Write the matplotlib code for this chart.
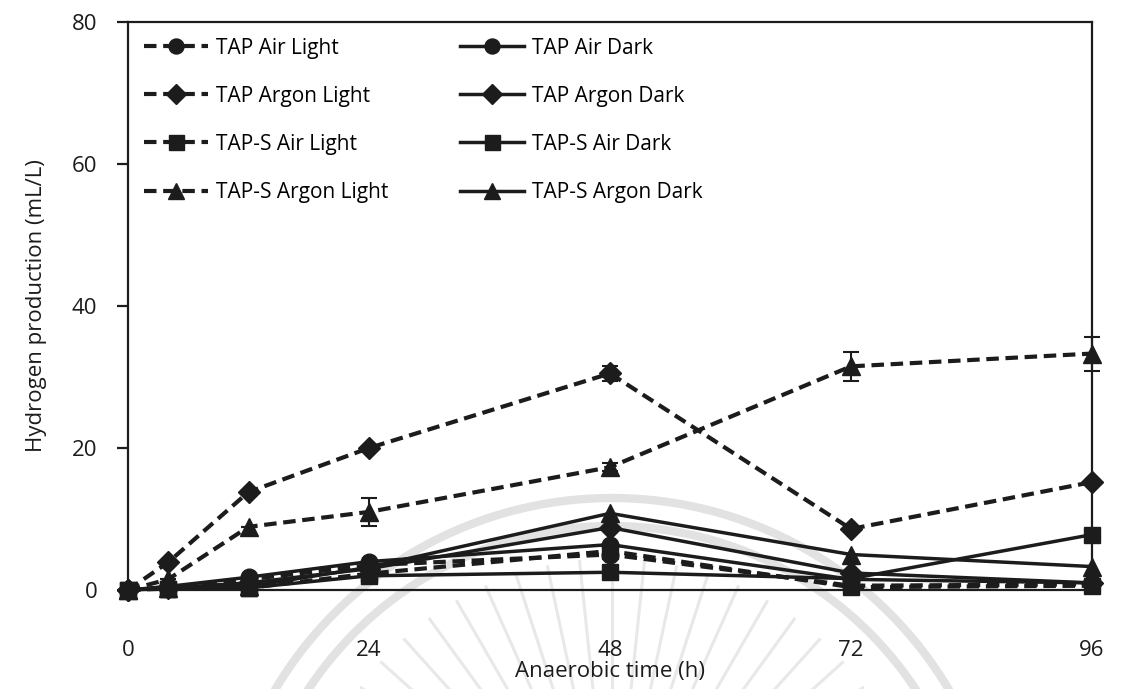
import numpy as np
import matplotlib.pyplot as plt
from matplotlib.lines import Line2D

# sampling times (h)
hours = [0, 4, 12, 24, 48, 72, 96]

# hydrogen production (mL/L) per condition
tap_air_light = [0, 0.4, 1.5, 3.5, 5.0, 0.6, 0.8]
tap_air_dark = [0, 0.5, 1.8, 4.0, 6.4, 1.5, 1.0]
tap_argon_light = [0, 3.9, 13.8, 20.0, 30.5, 8.6, 15.2]
tap_argon_dark = [0, 0.3, 1.0, 3.0, 8.8, 2.4, 1.0]
taps_air_light = [0, 0.2, 0.3, 2.3, 5.5, 0.4, 0.6]
taps_air_dark = [0, 0.2, 0.3, 2.0, 2.5, 1.6, 7.8]
taps_argon_light = [0, 1.5, 8.9, 11.0, 17.3, 31.5, 33.3]
taps_argon_dark = [0, 0.3, 0.5, 3.2, 10.8, 5.0, 3.3]

# standard deviations for the series that carry visible bars
tap_argon_light_err = [0, 0, 0, 0, 1.1, 0, 0]
taps_argon_light_err = [0, 0, 0, 2.0, 0.6, 2.0, 2.4]

series = [
    ("TAP Air Light", tap_air_light, None, "o", True),
    ("TAP Air Dark", tap_air_dark, None, "o", False),
    ("TAP Argon Light", tap_argon_light, tap_argon_light_err, "D", True),
    ("TAP Argon Dark", tap_argon_dark, None, "D", False),
    ("TAP-S Air Light", taps_air_light, None, "s", True),
    ("TAP-S Air Dark", taps_air_dark, None, "s", False),
    ("TAP-S Argon Light", taps_argon_light, taps_argon_light_err, "^", True),
    ("TAP-S Argon Dark", taps_argon_dark, None, "^", False),
]

INK = "#1c1c1c"
W, H = 1128, 689

plt.rcParams["font.family"] = ["Open Sans", "DejaVu Sans"]

fig = plt.figure(figsize=(W / 100, H / 100), dpi=100)


def px(xs, ys):
    xs = np.asarray(xs, dtype=float)
    ys = np.asarray(ys, dtype=float)
    return xs / W, 1 - ys / H


# faint university seal in the background
wm = "#e2e2e2"
cx, cy = 612, 890
for r in (392, 364):
    t = np.linspace(np.pi * 0.12, np.pi * 0.88, 200)
    fx, fy = px(cx + r * np.cos(t), cy - r * np.sin(t))
    fig.add_artist(Line2D(fx, fy, color=wm, lw=6, zorder=0, solid_capstyle="round"))
for a in np.linspace(np.pi * 0.2, np.pi * 0.8, 19):
    r0, r1 = 150, 310
    fx, fy = px([cx + r0 * np.cos(a), cx + r1 * np.cos(a)],
                [cy - r0 * np.sin(a) - 20, cy - r1 * np.sin(a) - 20])
    fig.add_artist(Line2D(fx, fy, color="#e8e8e8", lw=2.2, zorder=0))

ax = fig.add_axes([128 / W, 1 - 590 / H, (1092 - 128) / W, (590 - 22) / H])
ax.patch.set_alpha(0)

handles = []
for label, vals, err, mk, light in series:
    ls = (0, (3, 1.6)) if light else "-"
    lw = 3.0 if light else 2.5
    ms = 11 if mk == "D" else 13 if mk == "^" else 12
    if err is not None:
        ax.errorbar(hours, vals, yerr=err, fmt="none", ecolor=INK,
                    elinewidth=1.5, capsize=6, capthick=1.5, clip_on=False, zorder=3)
    (ln,) = ax.plot(hours, vals, linestyle=ls, linewidth=lw, color=INK,
                    marker=mk, markersize=ms, markerfacecolor=INK,
                    markeredgecolor=INK, clip_on=False, zorder=4, label=label)
    handles.append(ln)

ax.set_xlim(0, 96)
ax.set_ylim(0, 80)
ax.set_xticks([0, 24, 48, 72, 96])
ax.set_yticks([0, 20, 40, 60, 80])

for s in ax.spines.values():
    s.set_color(INK)
    s.set_linewidth(1.6)

ax.tick_params(axis="x", length=0, pad=36, labelsize=16, colors=INK)
ax.tick_params(axis="y", direction="out", length=8, width=1.6, pad=14,
               labelsize=16, colors=INK)

ax.set_xlabel("Anaerobic time (h)", fontsize=16, labelpad=0, color=INK)
ax.set_ylabel("Hydrogen production (mL/L)", fontsize=16, labelpad=18, color=INK)

# legend: light conditions in the left column, dark in the right
order = [0, 2, 4, 6, 1, 3, 5, 7]
ax.legend([handles[i] for i in order], [series[i][0] for i in order],
          ncol=2, frameon=False, loc="upper left",
          bbox_to_anchor=(0.0, 1.0), fontsize=15,
          handlelength=3.1, handletextpad=0.35, columnspacing=3.45,
          labelspacing=1.3, borderaxespad=0.35, markerscale=0.9)

fig.savefig("out.png", dpi=100)
